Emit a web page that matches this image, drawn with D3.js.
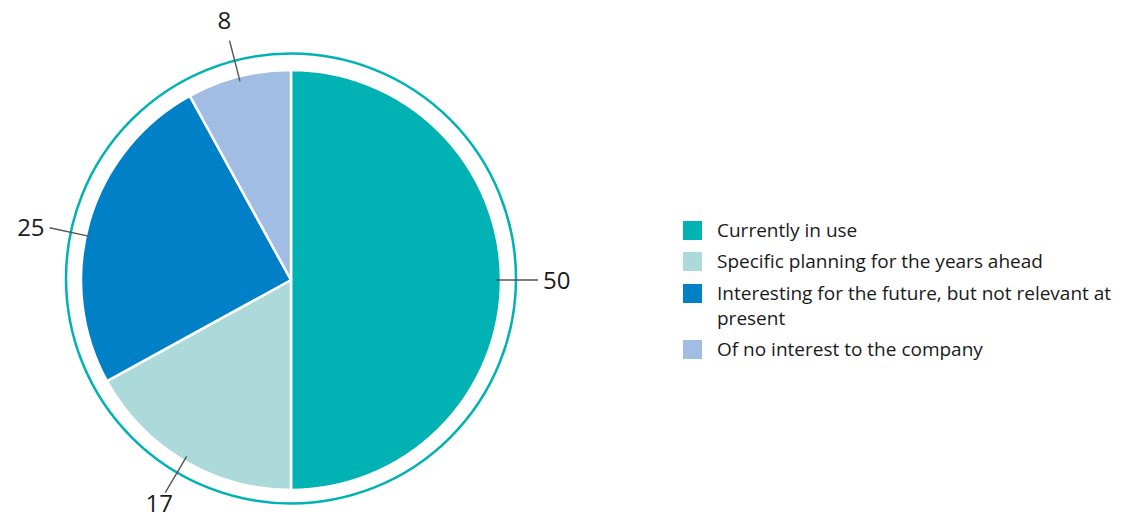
<!DOCTYPE html>
<html>
<head>
<meta charset="utf-8">
<script src="https://cdn.jsdelivr.net/npm/d3@7"></script>
<style>
  html, body { margin: 0; padding: 0; background: #fff; }
  svg { display: block; font-family: "Open Sans", "Noto Sans", sans-serif; }
</style>
</head>
<body>
<svg id="chart" width="1133" height="520"></svg>
<script>
// Survey answers (percent of companies)
const categories = [
  "Currently in use",
  "Specific planning for the years ahead",
  "Interesting for the future, but not relevant at present",
  "Of no interest to the company"
];
const values = [50, 17, 25, 8];
const colors = ["#00b2b3", "#acdadb", "#0080c6", "#a2bde3"];

// Legend lines (the long entry wraps onto a second line)
const legendLines = [
  ["Currently in use"],
  ["Specific planning for the years ahead"],
  ["Interesting for the future, but not relevant at", "present"],
  ["Of no interest to the company"]
];

const svg = d3.select("#chart");
const cx = 291, cy = 280, radius = 210, ringRadius = 225;

const pie = d3.pie().sort(null).value(d => d);
const arcs = pie(values);
const arc = d3.arc().innerRadius(0).outerRadius(radius);

const g = svg.append("g").attr("transform", `translate(${cx},${cy})`);

// Outer ring
g.append("circle")
  .attr("cx", 0).attr("cy", -1.5)
  .attr("r", ringRadius)
  .attr("fill", "none")
  .attr("stroke", colors[0])
  .attr("stroke-width", 2.5);

// Slices
g.selectAll("path.slice")
  .data(arcs)
  .join("path")
  .attr("class", "slice")
  .attr("d", arc)
  .attr("fill", (d, i) => colors[i])
  .attr("stroke", "#fff")
  .attr("stroke-width", 2.5)
  .attr("stroke-linejoin", "round");

// Value labels with leader lines
const labelShift = [0, 0, -4, 0]; // degrees, keeps the left label clear of the ring
const leaderIn = 205, leaderOut = 247;

function polar(angle, r) {
  return [Math.sin(angle) * r, -Math.cos(angle) * r];
}

g.selectAll("g.label")
  .data(arcs)
  .join("g")
  .attr("class", "label")
  .each(function(d, i) {
    const a = (d.startAngle + d.endAngle) / 2 + labelShift[i] * Math.PI / 180;
    const p1 = polar(a, leaderIn), p2 = polar(a, leaderOut);
    const sel = d3.select(this);
    sel.append("line")
      .attr("x1", p1[0]).attr("y1", p1[1])
      .attr("x2", p2[0]).attr("y2", p2[1])
      .attr("stroke", "#555")
      .attr("stroke-width", 1.4);
    const s = Math.sin(a), c = -Math.cos(a);
    const side = Math.abs(s) > 0.8;
    let x, y, anchor;
    if (side) {
      x = p2[0] + (s > 0 ? 5 : -5);
      y = p2[1];
      anchor = s > 0 ? "start" : "end";
    } else {
      const pt = polar(a, leaderOut + (c > 0 ? 12 : 21));
      x = pt[0]; y = pt[1];
      anchor = "middle";
    }
    sel.append("text")
      .attr("x", x)
      .attr("y", y)
      .attr("dy", "0.36em")
      .attr("text-anchor", anchor)
      .attr("font-size", 24)
      .attr("fill", "#1a1a1a")
      .text(d.data);
  });

// Legend
const legend = svg.append("g").attr("transform", "translate(683,221)");
const rowTop = [0, 31, 63, 119];
legendLines.forEach((lines, i) => {
  const row = legend.append("g").attr("transform", `translate(0,${rowTop[i]})`);
  row.append("rect")
    .attr("width", 19).attr("height", 19)
    .attr("fill", colors[i]);
  const t = row.append("text")
    .attr("x", 34).attr("y", 9.5)
    .attr("font-size", 19)
    .attr("fill", "#1a1a1a");
  lines.forEach((ln, j) => {
    t.append("tspan")
      .attr("x", 34)
      .attr("dy", j === 0 ? "0.35em" : 25)
      .text(ln);
  });
});
</script>
</body>
</html>
